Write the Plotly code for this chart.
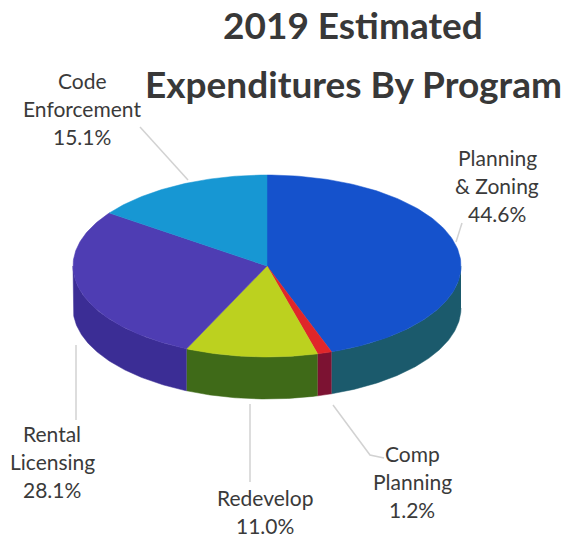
import numpy as np
import plotly.graph_objects as go

# Program spending shares (percent of 2019 estimated expenditures)
categories = ["Planning & Zoning", "Comp Planning", "Redevelop", "Rental Licensing", "Code Enforcement"]
shares = [44.6, 1.2, 11.0, 28.1, 15.1]

# Styling: top-face and side-wall colours per slice
top_colors = ["#1552cc", "#e0262a", "#bcd11f", "#4e3db3", "#1797d3"]
side_colors = ["#1b5a6c", "#7c1232", "#3f6a18", "#3b2d95", "#11709e"]

# Label anchor (centre of first text line) for each slice, plus leader lines
label_pos = [(497, 157), (412, 453), (265, 497), (52, 433), (82, 80)]
leaders = [
    [(462, 223), (456, 242)],
    [(333, 405), (370, 455), (384, 458)],
    [(250, 404), (250, 482)],
    [(76, 345), (76, 420)],
    [(140, 127), (188, 180)],
]

# Pie geometry in page pixels
W, H = 574, 538
cx, cy, rx, ry, depth = 267, 266, 194, 91, 42


def rim(a0, a1, n=120):
    t = np.radians(np.linspace(a0, a1, n))
    return cx + rx * np.sin(t), cy - ry * np.cos(t)


fig = go.Figure()

total = sum(shares)
bounds = np.concatenate([[0], np.cumsum(shares) / total * 360])

# Front side walls (visible between 90 and 270 degrees clockwise from top)
for i in range(len(shares)):
    a0, a1 = max(bounds[i], 90), min(bounds[i + 1], 270)
    if a1 <= a0:
        continue
    x, y = rim(a0, a1)
    xs = np.concatenate([x, x[::-1]])
    ys = np.concatenate([y, (y + depth)[::-1]])
    fig.add_trace(go.Scatter(x=xs, y=ys, fill="toself", mode="lines",
                             fillcolor=side_colors[i],
                             line=dict(color=side_colors[i], width=0.5),
                             hoverinfo="skip", showlegend=False))

# Top faces
for i in range(len(shares)):
    x, y = rim(bounds[i], bounds[i + 1])
    xs = np.concatenate([[cx], x, [cx]])
    ys = np.concatenate([[cy], y, [cy]])
    fig.add_trace(go.Scatter(x=xs, y=ys, fill="toself", mode="lines",
                             fillcolor=top_colors[i],
                             line=dict(color=top_colors[i], width=0.5),
                             name=categories[i],
                             hoverinfo="name", showlegend=False))

# Leader lines
for pts in leaders:
    fig.add_trace(go.Scatter(x=[p[0] for p in pts], y=[p[1] for p in pts],
                             mode="lines", line=dict(color="#d2d2d2", width=1.5),
                             hoverinfo="skip", showlegend=False))

annotations = []
line_step = 28
for name, val, (lx, ly) in zip(categories, shares, label_pos):
    lines = name.split(" ", 1) + [f"{val:.1f}%"]
    for k, txt in enumerate(lines):
        annotations.append(dict(x=lx, y=ly + k * line_step, text=txt,
                                showarrow=False, xref="x", yref="y",
                                xanchor="center", yanchor="middle",
                                font=dict(family="Lato", size=21, color="#3a3a3a")))

# Two-line chart title
for txt, ty in [("2019 Estimated", 24), ("Expenditures By Program", 83)]:
    annotations.append(dict(x=353, y=ty, text=f"<b>{txt}</b>", showarrow=False,
                            xref="x", yref="y", xanchor="center", yanchor="middle",
                            font=dict(family="Lato", size=37, color="#383838")))

fig.update_layout(
    width=W, height=H, autosize=False,
    margin=dict(l=0, r=0, t=0, b=0),
    paper_bgcolor="white", plot_bgcolor="white",
    xaxis=dict(range=[0, W], visible=False, fixedrange=True),
    yaxis=dict(range=[H, 0], visible=False, fixedrange=True),
    annotations=annotations,
)

fig.write_html("out.html")
